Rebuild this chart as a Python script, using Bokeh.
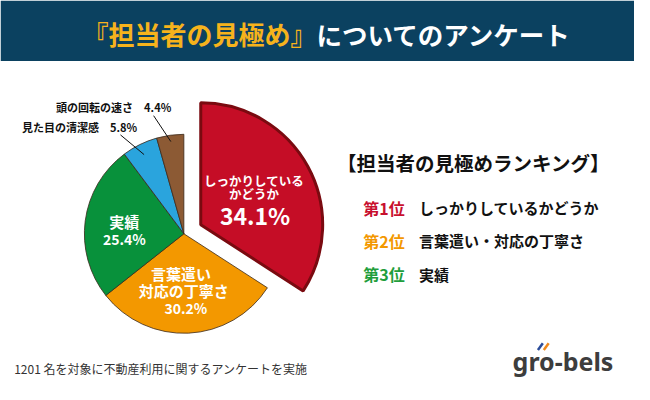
import math
from bokeh.plotting import figure
from bokeh.models import Range1d, ColumnDataSource
from bokeh.core.properties import value
from bokeh.embed import file_html
from bokeh.resources import INLINE

# ---------------- data ----------------
categories = ["しっかりしているかどうか", "言葉遣い・対応の丁寧さ", "実績", "見た目の清潔感", "頭の回転の速さ"]
values = [34.1, 30.2, 25.4, 5.8, 4.4]
slice_colors = ["#c50d26", "#f39800", "#08913b", "#2aa4dd", "#8c5a34"]
ranking = ["第1位", "第2位", "第3位"]
ranking_colors = ["#c8102e", "#f39800", "#1f9e3c"]
title_a = "『担当者の見極め』"
title_b = "についてのアンケート"
ranking_title = "【担当者の見極めランキング】"
footnote = "1201 名を対象に不動産利用に関するアンケートを実施"
logo = "gro-bels"

JP = "Noto Sans CJK JP"


def Y(y):
    # reference-pixel y (top-down) to data y (bottom-up)
    return 400 - y


p = figure(width=634, height=384, x_range=Range1d(0, 650), y_range=Range1d(0, 400),
           output_backend="svg", toolbar_location=None, min_border=0,
           x_axis_location=None, y_axis_location=None)
p.grid.visible = False
p.outline_line_color = None
p.background_fill_color = "white"
p.border_fill_color = "white"


def label(x, y, txt, size, color, bold=True, align="center", baseline="middle", font=JP):
    p.text(x=[x], y=[Y(y)], text=[txt], text_font=value(font), text_font_size=size,
           text_color=color, text_font_style="bold" if bold else "normal",
           text_align=align, text_baseline=baseline)


# ---------------- banner ----------------
p.quad(left=0, right=650, bottom=Y(63), top=400, fill_color="#0b4160", line_color=None)
label(324, 34, title_a, "26px", "#f6b31c", align="right")
label(324, 34, title_b, "25.5px", "#ffffff", align="left")

# ---------------- pie ----------------
cx, cy, r = 188, Y(243), 102
explode_r, explode_d = 125, 19.7
total = sum(values)
starts, ends, xs, ys, rs, lcs, lws = [], [], [], [], [], [], []
acc = 0.0
for i, v in enumerate(values):
    a0 = math.pi / 2 - acc / total * 2 * math.pi
    acc += v
    a1 = math.pi / 2 - acc / total * 2 * math.pi
    starts.append(a0)
    ends.append(a1)
    if i == 0:
        mid = (a0 + a1) / 2
        xs.append(cx + explode_d * math.cos(mid))
        ys.append(cy + explode_d * math.sin(mid))
        rs.append(explode_r)
        lcs.append("#7a0a10")
        lws.append(3)
    else:
        xs.append(cx)
        ys.append(cy)
        rs.append(r)
        lcs.append("#3b2a1c")
        lws.append(0.8)

src = ColumnDataSource(dict(x=xs, y=ys, radius=rs, start=starts, end=ends,
                            fill=slice_colors, lc=lcs, lw=lws))
p.wedge(x="x", y="y", radius="radius", start_angle="start", end_angle="end",
        direction="clock", fill_color="fill", line_color="lc", line_width="lw", source=src)

# inside labels
label(260, 187, "しっかりしている", "12.5px", "white")
label(260, 201, "かどうか", "12.5px", "white")
label(261, 223, f"{values[0]}%", "23px", "white")

label(185, 284, "言葉遣い", "15px", "white")
label(188, 302, "対応の丁寧さ", "15px", "white")
label(190, 320, f"{values[1]}%", "14px", "white")

label(127, 230, categories[2], "15px", "white")
label(127, 248, f"{values[2]}%", "14px", "white")

# outside labels with leader lines
label(57, 111, f"{categories[4]}　{values[4]}%", "11px", "#111111", align="left")
label(22, 132, f"{categories[3]}　{values[3]}%", "11px", "#111111", align="left")

for idx, (sx, sy), rr in [(4, (157, 120), 97), (3, (123, 140), 92)]:
    mid = (starts[idx] + ends[idx]) / 2
    ex = cx + rr * math.cos(mid)
    ey = cy + rr * math.sin(mid)
    p.segment(x0=[sx], y0=[Y(sy)], x1=[ex], y1=[ey], line_color="#111111", line_width=1)

# ---------------- ranking ----------------
label(485, 169, ranking_title, "19.5px", "#111111")
for i, (rk, rc) in enumerate(zip(ranking, ranking_colors)):
    yy = [216, 250, 285][i]
    label(372, yy, rk, "16px", rc, align="left")
    label(429, yy, categories[i], "15px", "#111111", align="left")

# ---------------- footer ----------------
label(14, 383, footnote, "12px", "#333333", bold=False, align="left")
label(525, 376, logo, "25px", "#3d3d3d", align="left", baseline="middle", font="Noto Sans")
p.segment(x0=[551], y0=[Y(364)], x1=[556], y1=[Y(357)], line_color="#2a4c9a", line_width=2.5)
p.segment(x0=[557], y0=[Y(364)], x1=[562], y1=[Y(357)], line_color="#f08a1c", line_width=2.5)

open("out.html", "w").write(file_html(p, INLINE))
